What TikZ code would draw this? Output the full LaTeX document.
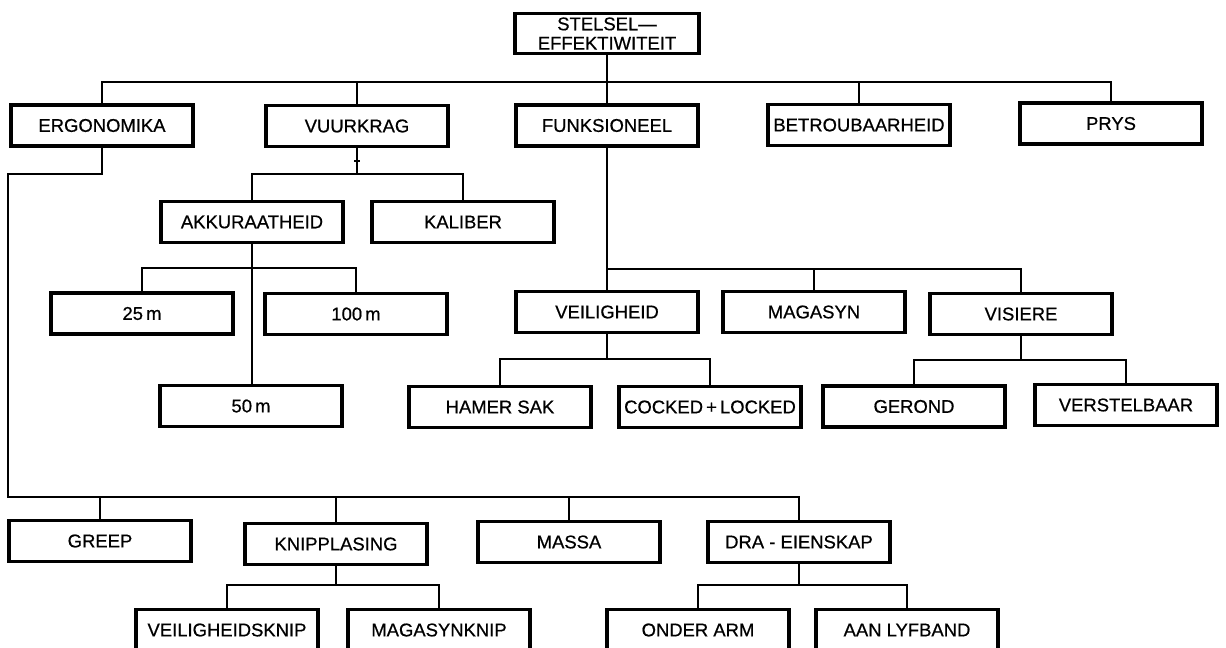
\documentclass[tikz,border=0pt]{standalone}
\usepackage{fontspec}
\setmainfont{Liberation Sans}
\newfontfamily\letters[FakeBold=0.6]{Liberation Sans}

\tikzstyle{blok} = [rectangle, draw=black, line width=1.8pt, minimum width=3.64cm, minimum height=0.82cm, inner sep=1pt, text centered, font=\letters\fontsize{10.5}{11}\selectfont]
\tikzstyle{lyn} = [line width=1.1pt]

\begin{document}
\begin{tikzpicture}[x=0.02cm, y=-0.02cm]

    \clip (0,0) rectangle (1226,648);
    \fill[white] (0,0) rectangle (1226,648);

    % Blokke
    \node[blok, align=center, minimum width=3.68cm, minimum height=0.8cm, inner sep=0pt, font=\letters\fontsize{10.5}{11}\selectfont] (stelsel) at (607,33.5) {STELSEL—\\EFFEKTIWITEIT};

    \node[blok] (ergo) at (102,125.5) {ERGONOMIKA};
    \node[blok] (vuurkrag) at (357,126) {VUURKRAG};
    \node[blok] (funk) at (607,125.5) {FUNKSIONEEL};
    \node[blok] (betrou) at (859,125) {BETROUBAARHEID};
    \node[blok] (prys) at (1111,123.5) {PRYS};

    \node[blok] (akku) at (252,222) {AKKURAATHEID};
    \node[blok] (kaliber) at (463,222) {KALIBER};

    \node[blok] (m25) at (142,313.5) {25\,m};
    \node[blok] (m100) at (356,314) {100\,m};
    \node[blok] (veilig) at (607,312) {VEILIGHEID};
    \node[blok] (magasyn) at (814,312) {MAGASYN};
    \node[blok] (visiere) at (1021,314) {VISIERE};

    \node[blok] (m50) at (251,406) {50\,m};
    \node[blok] (hamer) at (500,407) {HAMER SAK};
    \node[blok] (cocked) at (710,407) {COCKED\,+\,LOCKED};
    \node[blok] (gerond) at (914,406.5) {GEROND};
    \node[blok] (verstel) at (1126,405) {VERSTELBAAR};

    \node[blok] (greep) at (100,541) {GREEP};
    \node[blok] (knip) at (336,544) {KNIPPLASING};
    \node[blok] (massa) at (569,542) {MASSA};
    \node[blok] (dra) at (799,542) {DRA - EIENSKAP};

    \node[blok] (vknip) at (227,630) {VEILIGHEIDSKNIP};
    \node[blok] (mknip) at (439,630) {MAGASYNKNIP};
    \node[blok] (onder) at (698,630) {ONDER ARM};
    \node[blok] (lyf) at (907,630) {AAN LYFBAND};

    % Hoofvlak
    \coordinate (b1) at (0,82);
    \draw[lyn] (ergo.north) |- (b1 -| prys.north) -- (prys.north);
    \foreach \n in {vuurkrag, betrou}
        \draw[lyn] (\n.north) -- (\n.north |- b1);
    \draw[lyn] (stelsel.south) -- (funk.north);

    % Vuurkrag
    \coordinate (b2) at (0,174);
    \draw[lyn] (akku.north) |- (b2 -| kaliber.north) -- (kaliber.north);
    \draw[lyn] (vuurkrag.south) -- (vuurkrag.south |- b2);
    \draw[lyn] (vuurkrag.south) ++(-3,13) -- ++(6,0);

    % Akkuraatheid
    \coordinate (b3) at (0,268);
    \draw[lyn] (m25.north) |- (b3 -| m100.north) -- (m100.north);
    \draw[lyn] (akku.south) -- (akku.south |- m50.north);

    % Funksioneel
    \coordinate (b4) at (0,269);
    \draw[lyn] (funk.south) -- (veilig.north);
    \draw[lyn] (veilig.north |- b4) -| (visiere.north);
    \draw[lyn] (magasyn.north) -- (magasyn.north |- b4);

    % Veiligheid en visiere
    \coordinate (b5) at (0,359);
    \draw[lyn] (hamer.north) |- (b5 -| cocked.north) -- (cocked.north);
    \draw[lyn] (veilig.south) -- (veilig.south |- b5);
    \coordinate (b6) at (0,360);
    \draw[lyn] (gerond.north) |- (b6 -| verstel.north) -- (verstel.north);
    \draw[lyn] (visiere.south) -- (visiere.south |- b6);

    % Ergonomika
    \coordinate (hoek) at (8,174);
    \coordinate (b7) at (8,497);
    \draw[lyn] (ergo.south) |- (hoek) -- (b7) -| (dra.north);
    \foreach \n in {greep, knip, massa}
        \draw[lyn] (\n.north) -- (\n.north |- b7);

    % Knipplasing en dra-eienskap
    \coordinate (b8) at (0,585);
    \draw[lyn] (vknip.north) |- (b8 -| mknip.north) -- (mknip.north);
    \draw[lyn] (knip.south) -- (knip.south |- b8);
    \draw[lyn] (onder.north) |- (b8 -| lyf.north) -- (lyf.north);
    \draw[lyn] (dra.south) -- (dra.south |- b8);

\end{tikzpicture}
\end{document}
